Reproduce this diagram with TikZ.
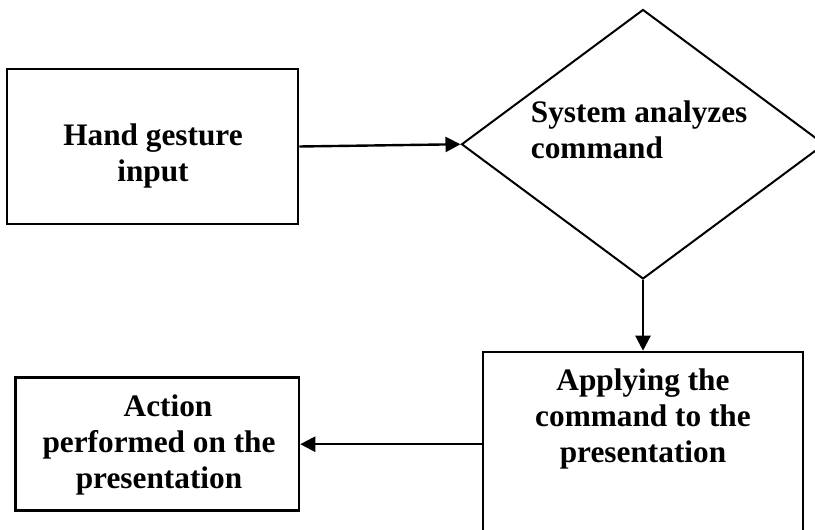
\documentclass[tikz,border=0pt]{standalone}
\usepackage{fontspec}
\setmainfont{Liberation Serif}
\usetikzlibrary{shapes.geometric,arrows.meta}
\begin{document}
\begin{tikzpicture}[x=1pt,y=-1pt,
  box/.style={draw=black,line width=2.6pt,rectangle,inner sep=0pt},
  decision/.style={draw=black,line width=2pt,diamond,inner sep=0pt},
  lbl/.style={inner sep=0pt,font=\fontsize{31.3}{36}\selectfont\bfseries},
  conn/.style={line width=2.4pt,-{Triangle[length=15pt,width=15pt]}}]
\useasboundingbox (0,0) rectangle (815,530);
% shapes
\node[box,minimum width=291pt,minimum height=155pt] (b1) at (152.5,146.5) {};
\node[decision,minimum width=363pt,minimum height=269.5pt] (d) at (643,144.25) {};
\node[box,minimum width=320pt,minimum height=193pt] (b3) at (643,448.5) {};
\node[box,minimum width=283.3pt,minimum height=133pt] (b4) at (157.3,444.2) {};
% texts
\node[lbl,align=center,anchor=north] (t1) at (153,123.5) {Hand gesture\\input};
\node[lbl,align=left,anchor=north west] (t2) at (530.7,100.5) {System analyzes\\command};
\node[lbl,align=center,anchor=north] (t3) at (643,368.5) {Applying the\\command to the\\presentation};
\node[lbl,align=center,anchor=north] (t4) at (159,395) {\hspace*{18pt}Action\\performed on the\\presentation};
% connectors
\draw[conn] (b1.east) -- (d.west);
\draw[conn] (d.south) -- (b3.north);
\draw[conn] (b3.west |- b4.east) -- (b4.east);
\end{tikzpicture}
\end{document}
